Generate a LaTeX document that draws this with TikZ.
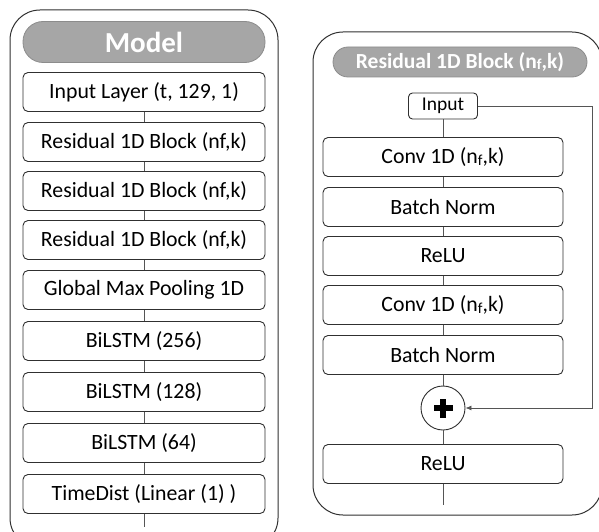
\documentclass[tikz,border=0pt]{standalone}
\usepackage{fontspec}
\setmainfont{Carlito}
\usetikzlibrary{arrows.meta,calc}
\definecolor{hdrfill}{HTML}{A6A6A6}
\definecolor{hdrline}{HTML}{8C8C8C}
\definecolor{boxline}{HTML}{303030}
\definecolor{conn}{HTML}{555555}
\tikzset{
  layer/.style={draw=boxline, line width=0.9pt, rounded corners=5pt, fill=white,
    minimum width=242pt, minimum height=39pt, inner sep=0pt, font=\fontsize{21.8}{24}\selectfont},
  rlayer/.style={layer, minimum width=240pt},
  hdr/.style={draw=hdrline, fill=hdrfill, line width=0.8pt, rounded corners=15pt,
    text=white, font=\bfseries, inner sep=0pt},
  frame/.style={draw=boxline, line width=1pt, rounded corners=30pt},
  link/.style={draw=conn, line width=0.8pt},
}
\newcommand{\nfsub}{n\raisebox{-0.15ex}{\scalebox{0.7}{f}}}
\begin{document}
\begin{tikzpicture}[x=1pt,y=-1pt]
\useasboundingbox (0,0) rectangle (599,532);
\clip (0,0) rectangle (599,532);
% left frame
\draw[frame] (10,10) rectangle (278,548);
\node[hdr, minimum width=242pt, minimum height=41pt, rounded corners=20pt,
  font=\bfseries\fontsize{29}{31}\selectfont] (mh) at (144,42) {Model};
\node[layer] (l1) at (144,92) {Input Layer (t, 129, 1)};
\node[layer] (l2) at (144,142) {Residual 1D Block (nf,k)};
\node[layer] (l3) at (144,191) {Residual 1D Block (nf,k)};
\node[layer] (l4) at (144,240) {Residual 1D Block (nf,k)};
\node[layer] (l5) at (144,290) {Global Max Pooling 1D};
\node[layer] (l6) at (144,341) {BiLSTM (256)};
\node[layer] (l7) at (144,392) {BiLSTM (128)};
\node[layer] (l8) at (144,443) {BiLSTM (64)};
\node[layer] (l9) at (144,494) {TimeDist (Linear (1) )};
\coordinate (lend) at (144,527);
\foreach \a/\b in {l1/l2,l2/l3,l3/l4,l4/l5,l5/l6,l6/l7,l7/l8,l8/l9}
  \draw[link] (\a.south) -- (\b.north);
\draw[link] (l9.south) -- (lend);
% right frame
\draw[frame] (313,32) rectangle (602,515);
\node[hdr, minimum width=254pt, minimum height=30pt,
  font=\bfseries\fontsize{21.5}{23}\selectfont] (rh) at (460,62) {Residual 1D Block (\nfsub,k)};
\node[draw=boxline, line width=0.9pt, rounded corners=4pt, fill=white,
  minimum width=69pt, minimum height=26pt, inner sep=0pt,
  font=\fontsize{19.5}{21}\selectfont] (in) at (443,106) {Input};
\node[rlayer] (r1) at (443,157) {Conv 1D (\nfsub,k)};
\node[rlayer] (r2) at (443,207) {Batch Norm};
\node[rlayer] (r3) at (443,256) {ReLU};
\node[rlayer] (r4) at (443,305) {Conv 1D (\nfsub,k)};
\node[rlayer] (r5) at (443,355) {Batch Norm};
\node[draw=boxline, line width=0.9pt, circle, minimum size=44pt, inner sep=0pt, fill=white] (add) at (443,408) {};
\fill[black] ($(add.center)+(-3.3,-9.5)$) rectangle ($(add.center)+(3.3,9.5)$);
\fill[black] ($(add.center)+(-9.5,-3.3)$) rectangle ($(add.center)+(9.5,3.3)$);
\node[rlayer] (r6) at (443,464) {ReLU};
\coordinate (rend) at (443,505);
\foreach \a/\b in {in/r1,r1/r2,r2/r3,r3/r4,r4/r5,r5/add,add/r6}
  \draw[link] (\a.south) -- (\b.north);
\draw[link] (r6.south) -- (rend);
\coordinate (sk1) at (592,106);
\coordinate (sk2) at (592,408);
\draw[link, -{Latex[length=6pt,width=5pt]}] (in.east) -- (sk1) -- (sk2) -- (add.east);
\end{tikzpicture}
\end{document}
